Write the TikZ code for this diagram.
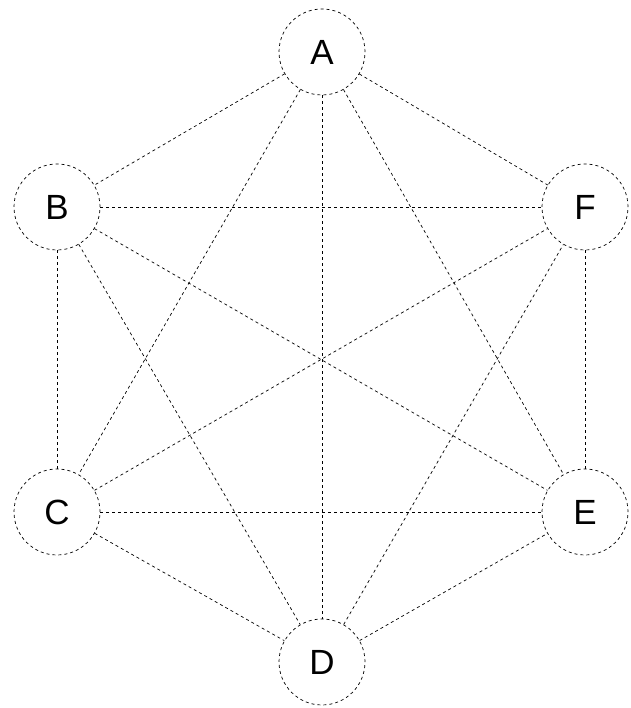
\documentclass[tikz,border=0pt]{standalone}
\usepackage{fontspec}
\setmainfont{Liberation Sans}
\usepackage{tikz}
\tikzset{
  vtx/.style={draw,circle,dash pattern=on 3pt off 3pt,line width=0.7pt,minimum size=86pt,inner sep=0pt,font=\fontsize{35}{40}\selectfont},
  edg/.style={dash pattern=on 3pt off 3pt,line width=0.7pt}
}
\begin{document}
\begin{tikzpicture}[x=1pt,y=1pt]
\useasboundingbox (0,0) rectangle (630,708);

\node[vtx] (A) at (322,656) {A};
\node[vtx] (B) at (57,501) {B};
\node[vtx] (F) at (585,501) {F};
\node[vtx] (C) at (57,196) {C};
\node[vtx] (E) at (585,196) {E};
\node[vtx] (D) at (322,46) {D};

\draw[edg] (A)--(B); \draw[edg] (A)--(C); \draw[edg] (A)--(D); \draw[edg] (A)--(E); \draw[edg] (A)--(F);
\draw[edg] (B)--(C); \draw[edg] (B)--(D); \draw[edg] (B)--(E); \draw[edg] (B)--(F);
\draw[edg] (C)--(D); \draw[edg] (C)--(E); \draw[edg] (C)--(F);
\draw[edg] (D)--(E); \draw[edg] (D)--(F);
\draw[edg] (E)--(F);
\end{tikzpicture}
\end{document}
